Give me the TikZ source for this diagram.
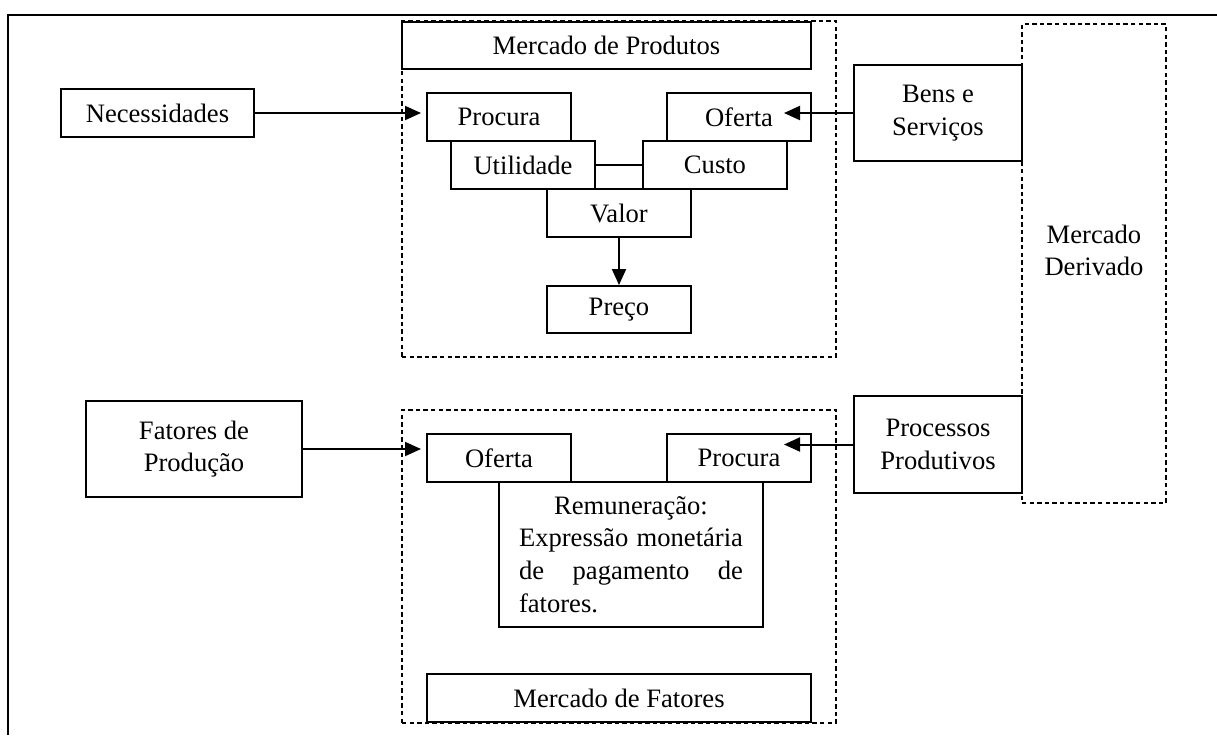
\documentclass[tikz,border=0pt]{standalone}
\usepackage{fontspec}
\setmainfont{Liberation Serif}
\usetikzlibrary{arrows.meta}
\tikzset{
  box/.style={draw,line width=1pt,fill=white,inner sep=0pt,align=center,
    font=\fontsize{13.3}{16.3}\selectfont},
  dashbox/.style={draw,line width=0.6pt,dash pattern=on 2.2pt off 1.6pt,inner sep=0pt},
  conn/.style={line width=1pt,-{Triangle[length=8pt,width=7pt]}}
}
\newcommand{\fullline}[1]{\makebox[112pt][s]{#1}}
\begin{document}
\begin{tikzpicture}[x=0.5pt,y=-0.5pt]
\useasboundingbox (0,0) rectangle (1217,735);
% frame
\draw[line width=1pt] (1217,15) -- (8,15) -- (8,735);
% dashed markets
\node[dashbox,minimum width=217pt,minimum height=168pt] (prodbox) at (619,189) {};
\node[dashbox,minimum width=217pt,minimum height=156.5pt] (fatbox) at (619,566.5) {};
\node[dashbox,minimum width=72pt,minimum height=239.5pt,
  label={[name=derivtxt,align=center,yshift=6.5pt,font=\fontsize{13.3}{16.3}\selectfont]center:Mercado\\Derivado}] (deriv) at (1094,263.5) {};
% left side
\node[box,minimum width=96.5pt,minimum height=24pt] (necess) at (157.5,113) {Necessidades};
\node[box,minimum width=108pt,minimum height=48pt] (fatores) at (194,449) {Fatores de\\Produção};
% right side
\node[box,minimum width=84pt,minimum height=48pt] (bens) at (938,113) {Bens e\\Serviços};
\node[box,minimum width=84pt,minimum height=48.5pt] (processos) at (938,444.5) {Processos\\Produtivos};
% mercado de produtos
\node[box,minimum width=204.5pt,minimum height=23.5pt] (mprod) at (606.5,45.5) {Mercado de Produtos};
\node[box,minimum width=72pt,minimum height=24pt] (procP) at (499,117) {Procura};
\node[box,minimum width=72pt,minimum height=24pt] (ofertaP) at (739,117) {Oferta};
\node[box,minimum width=72pt,minimum height=24pt] (util) at (523,165) {Utilidade};
\node[box,minimum width=72pt,minimum height=24pt] (custo) at (715,165) {Custo};
\node[box,minimum width=72pt,minimum height=24pt] (valor) at (619,213) {Valor};
\node[box,minimum width=72pt,minimum height=23.5pt] (preco) at (619,309.5) {Preço};
% mercado de fatores
\node[box,minimum width=72pt,minimum height=24pt] (ofertaF) at (499,458) {Oferta};
\node[box,minimum width=72pt,minimum height=24pt] (procF) at (739,458) {Procura};
\node[box,minimum width=132pt,minimum height=72.5pt,align=left] (remun) at (631,554.5)
  {\makebox[112pt][c]{Remuneração:}\\\fullline{Expressão monetária}\\\fullline{de pagamento de}\\fatores.};
\node[box,minimum width=192pt,minimum height=24pt] (mfat) at (619,698) {Mercado de Fatores};
% arrow ends
\coordinate (necessIn) at (necess.east -| procP.west);
\coordinate (bensIn) at ([xshift=-14pt]bens.west -| ofertaP.east);
\coordinate (fatIn) at (fatores.east -| ofertaF.west);
\coordinate (procIn) at ([xshift=-14pt]processos.west -| procF.east);
% connectors
\draw[conn,shorten >=2.5pt] (necess.east) -- (necessIn);
\draw[conn] (bens.west) -- (bensIn);
\draw[line width=1pt] (util.east) -- (custo.west);
\draw[conn] (valor.south) -- (preco.north);
\draw[conn,shorten >=2.5pt] (fatores.east) -- (fatIn);
\draw[conn] (processos.west) -- (procIn);
\end{tikzpicture}
\end{document}
